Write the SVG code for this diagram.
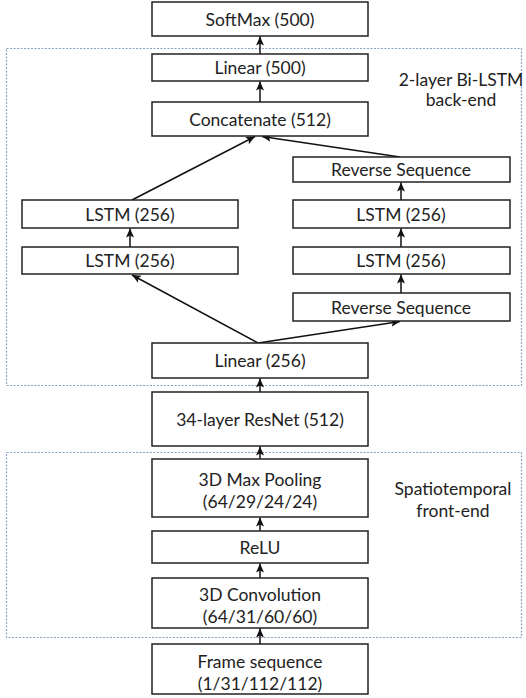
<svg xmlns="http://www.w3.org/2000/svg" width="526" height="698" viewBox="0 0 526 698">
<defs>
<marker id="ah" markerUnits="userSpaceOnUse" markerWidth="10" markerHeight="10" viewBox="0 0 10 10" refX="9" refY="5" orient="auto">
<path d="M0,1 L9,5 L0,9 L2,5 z" fill="#111"/>
</marker>
</defs>
<style>
.box{fill:#fff;stroke:#222;stroke-width:1.5}
.t{font-family:Lato,"Liberation Sans",sans-serif;font-size:17.5px;fill:#222;text-anchor:middle;dominant-baseline:central}
.region{fill:none;stroke:#8aa2bf;stroke-width:1.2;stroke-dasharray:2,1.5}
.c{stroke:#111;stroke-width:1.5;fill:none;marker-end:url(#ah)}
</style>
<rect width="526" height="698" fill="#fff"/>
<g id="regions">
<rect class="region" x="6.5" y="48.5" width="515" height="337"/>
<rect class="region" x="6.5" y="452.5" width="515" height="185"/>
<text class="t" x="461" y="79">2-layer Bi-LSTM</text>
<text class="t" x="461" y="99">back-end</text>
<text class="t" x="453" y="488">Spatiotemporal</text>
<text class="t" x="453" y="510">front-end</text>
</g>
<g id="connectors">
<line class="c" x1="260" y1="54" x2="260" y2="36.5"/>
<line class="c" x1="260" y1="102" x2="260" y2="81.5"/>
<line class="c" x1="132" y1="200" x2="255" y2="136.5"/>
<line class="c" x1="400" y1="157" x2="262" y2="136.5"/>
<line class="c" x1="130" y1="247" x2="130" y2="228.5"/>
<line class="c" x1="401" y1="200" x2="401" y2="182.5"/>
<line class="c" x1="401" y1="247" x2="401" y2="228.5"/>
<line class="c" x1="401" y1="293" x2="401" y2="274.5"/>
<line class="c" x1="258" y1="343" x2="132" y2="275"/>
<line class="c" x1="258" y1="343" x2="400" y2="321.5"/>
<line class="c" x1="260" y1="392" x2="260" y2="378.5"/>
<line class="c" x1="260" y1="459" x2="260" y2="446.5"/>
<line class="c" x1="260" y1="531" x2="260" y2="517.5"/>
<line class="c" x1="260" y1="578" x2="260" y2="563.5"/>
<line class="c" x1="260" y1="644" x2="260" y2="628.5"/>
</g>
<g id="softmax"><rect class="box" x="152" y="2" width="216" height="34"/><text class="t" x="260" y="19">SoftMax (500)</text></g>
<g id="linear500"><rect class="box" x="152" y="54" width="216" height="27"/><text class="t" x="260" y="67.5">Linear (500)</text></g>
<g id="concat"><rect class="box" x="152" y="102" width="216" height="34"/><text class="t" x="260" y="119">Concatenate (512)</text></g>
<g id="revtop"><rect class="box" x="293" y="157" width="217" height="25"/><text class="t" x="401" y="169.5">Reverse Sequence</text></g>
<g id="lstm_l2"><rect class="box" x="22" y="200" width="216" height="28"/><text class="t" x="130" y="214">LSTM (256)</text></g>
<g id="lstm_r2"><rect class="box" x="293" y="200" width="217" height="28"/><text class="t" x="401" y="214">LSTM (256)</text></g>
<g id="lstm_l1"><rect class="box" x="22" y="247" width="216" height="27"/><text class="t" x="130" y="260.5">LSTM (256)</text></g>
<g id="lstm_r1"><rect class="box" x="293" y="247" width="217" height="27"/><text class="t" x="401" y="260.5">LSTM (256)</text></g>
<g id="revbot"><rect class="box" x="293" y="293" width="217" height="28"/><text class="t" x="401" y="307">Reverse Sequence</text></g>
<g id="linear256"><rect class="box" x="152" y="343" width="216" height="35"/><text class="t" x="260" y="360.5">Linear (256)</text></g>
<g id="resnet"><rect class="box" x="152" y="392" width="216" height="54"/><text class="t" x="260" y="419">34-layer ResNet (512)</text></g>
<g id="maxpool"><rect class="box" x="152" y="459" width="216" height="58"/><text class="t" x="260" y="479">3D Max Pooling</text><text class="t" x="260" y="501">(64/29/24/24)</text></g>
<g id="relu"><rect class="box" x="152" y="531" width="216" height="32"/><text class="t" x="260" y="547">ReLU</text></g>
<g id="conv"><rect class="box" x="152" y="578" width="216" height="50"/><text class="t" x="260" y="594">3D Convolution</text><text class="t" x="260" y="616">(64/31/60/60)</text></g>
<g id="frame"><rect class="box" x="152" y="644" width="216" height="50"/><text class="t" x="260" y="661">Frame sequence</text><text class="t" x="260" y="683">(1/31/112/112)</text></g>
</svg>
